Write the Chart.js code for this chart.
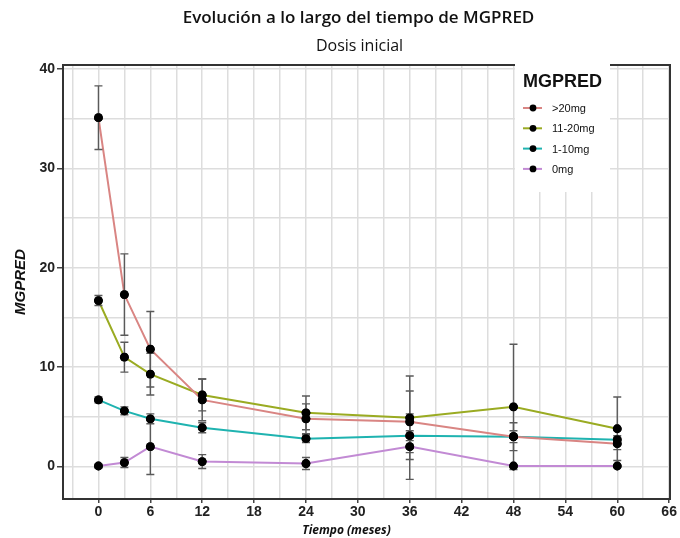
<!DOCTYPE html>
<html>
<head>
<meta charset="utf-8">
<script src="https://cdn.jsdelivr.net/npm/chart.js@4.4.1/dist/chart.umd.min.js"></script>
<style>
  html, body { margin: 0; padding: 0; background: #ffffff; }
  #wrap { width: 680px; height: 538px; }
</style>
</head>
<body>
<div id="wrap"><canvas id="c" width="680" height="538"></canvas></div>
<script>
// ---- data ----
const months = [0, 3, 6, 12, 24, 36, 48, 60];
const seriesNames = ['>20mg', '11-20mg', '1-10mg', '0mg'];
const mgOver20 = [35.1, 17.3, 11.8, 6.7, 4.8, 4.5, 3.0, 2.3];
const mgOver20Err = [3.2, 4.1, 3.8, 2.1, 1.5, 3.1, 1.4, 0.6];
const mg11to20 = [16.7, 11.0, 9.3, 7.2, 5.4, 4.9, 6.0, 3.8];
const mg11to20Err = [0.5, 1.5, 2.1, 1.6, 1.7, 4.2, 6.3, 3.2];
const mg1to10 = [6.7, 5.6, 4.8, 3.9, 2.8, 3.1, 3.0, 2.7];
const mg1to10Err = [0.3, 0.4, 0.5, 0.5, 0.4, 0.5, 0.6, 0.4];
const mg0 = [0.05, 0.4, 2.0, 0.5, 0.3, 2.0, 0.05, 0.05];
const mg0Err = [0.2, 0.5, 2.8, 0.7, 0.6, 3.3, 0.0, 0.0];
const xTickValues = [-3, 0, 3, 6, 9, 12, 15, 18, 21, 24, 27, 30, 33, 36, 39, 42, 45, 48, 51, 54, 57, 60, 63, 66];
const yTickValues = [0, 5, 10, 15, 20, 25, 30, 35, 40];
const titleText = 'Evolución a lo largo del tiempo de MGPRED';
const subtitleText = 'Dosis inicial';
const xTitleText = 'Tiempo (meses)';
const yTitleText = 'MGPRED';
const legendTitleText = 'MGPRED';

const lineColors = ['#d98583', '#9aab22', '#1fb3b0', '#c28ad4'];
const allValues = [mgOver20, mg11to20, mg1to10, mg0];
const allErrors = [mgOver20Err, mg11to20Err, mg1to10Err, mg0Err];

const datasets = seriesNames.map((name, i) => ({
  label: name,
  data: months.map((m, j) => ({ x: m, y: allValues[i][j] })),
  borderColor: lineColors[i],
  backgroundColor: '#000000',
  pointBackgroundColor: '#000000',
  pointBorderColor: '#000000',
  pointBorderWidth: 0,
  pointRadius: 4.4,
  pointHoverRadius: 4.4,
  borderWidth: 2,
  tension: 0,
  fill: false
}));

const isLabeledX = v => v >= 0 && v % 6 === 0;
const isLabeledY = v => v % 10 === 0;

const errorBarPlugin = {
  id: 'errorBars',
  afterDatasetsDraw(chart) {
    const ctx = chart.ctx;
    const xs = chart.scales.x, ys = chart.scales.y;
    ctx.save();
    ctx.strokeStyle = '#5a5a5a';
    ctx.lineWidth = 1.4;
    allErrors.forEach((errs, i) => {
      errs.forEach((e, j) => {
        if (!e) return;
        const x = xs.getPixelForValue(months[j]);
        const y1 = ys.getPixelForValue(allValues[i][j] + e);
        const y2 = ys.getPixelForValue(allValues[i][j] - e);
        ctx.beginPath();
        ctx.moveTo(x, y1); ctx.lineTo(x, y2);
        ctx.moveTo(x - 4, y1); ctx.lineTo(x + 4, y1);
        ctx.moveTo(x - 4, y2); ctx.lineTo(x + 4, y2);
        ctx.stroke();
      });
    });
    ctx.restore();
    // redraw points above error bars
    chart.data.datasets.forEach((d, i) => {
      chart.getDatasetMeta(i).data.forEach(pt => pt.draw(ctx));
    });
    // frame
    const a = chart.chartArea;
    ctx.save();
    ctx.strokeStyle = '#333333';
    ctx.lineWidth = 2;
    ctx.strokeRect(a.left, a.top, a.right - a.left, a.bottom - a.top);
    ctx.restore();
  }
};

const textPlugin = {
  id: 'texts',
  afterDraw(chart) {
    const ctx = chart.ctx;
    const a = chart.chartArea;
    const cx = (a.left + a.right) / 2;
    ctx.save();
    ctx.fillStyle = '#111111';
    ctx.textAlign = 'center';
    ctx.textBaseline = 'middle';
    ctx.font = '600 17px "Open Sans"';
    ctx.fillText(titleText, cx - 8, 18);
    ctx.font = '400 16px "Open Sans"';
    ctx.fillText(subtitleText, cx - 7, 46);
    ctx.font = 'italic 700 12px "Open Sans"';
    ctx.fillText(xTitleText, cx - 20, 531);

    // legend
    const lx = a.right - 155, ly = a.top - 8;
    ctx.fillStyle = '#ffffff';
    ctx.fillRect(lx, ly, 95, 135);
    ctx.fillStyle = '#111111';
    ctx.textAlign = 'left';
    ctx.font = 'bold 18px "Liberation Sans", Arial';
    ctx.fillText(legendTitleText, lx + 8, ly + 25);
    ctx.font = '11px "Liberation Sans", Arial';
    seriesNames.forEach((name, i) => {
      const y = ly + 51 + i * 20.3;
      ctx.strokeStyle = lineColors[i];
      ctx.lineWidth = 2;
      ctx.beginPath();
      ctx.moveTo(lx + 8, y); ctx.lineTo(lx + 27, y);
      ctx.stroke();
      ctx.fillStyle = '#000000';
      ctx.beginPath();
      ctx.arc(lx + 18, y, 3.4, 0, Math.PI * 2);
      ctx.fill();
      ctx.fillStyle = '#111111';
      ctx.fillText(name, lx + 37, y + 1);
    });
    ctx.restore();
  }
};

new Chart(document.getElementById('c'), {
  type: 'line',
  data: { datasets },
  options: {
    responsive: false,
    animation: false,
    layout: { padding: { top: 65, right: 10, left: 0, bottom: 0 } },
    plugins: {
      legend: { display: false },
      title: { display: false },
      tooltip: { enabled: false }
    },
    scales: {
      x: {
        type: 'linear',
        min: -4.1,
        max: 66.1,
        afterBuildTicks: s => { s.ticks = xTickValues.map(v => ({ value: v })); },
        afterFit: s => { s.height = 39; },
        ticks: {
          autoSkip: false,
          maxRotation: 0,
          padding: 1,
          color: '#222222',
          font: { family: '"Liberation Sans", Arial', size: 14, weight: 'bold' },
          callback: v => isLabeledX(v) ? String(v) : ''
        },
        grid: {
          color: '#dddddd',
          lineWidth: 1.5,
          tickLength: 4,
          tickColor: c => isLabeledX(c.tick.value) ? '#444444' : 'rgba(0,0,0,0)'
        },
        border: { display: true, color: '#333333', width: 2 }
      },
      y: {
        type: 'linear',
        min: -3.27,
        max: 40.4,
        afterBuildTicks: s => { s.ticks = yTickValues.map(v => ({ value: v })); },
        afterFit: s => { s.width = 63; },
        ticks: {
          autoSkip: false,
          padding: 2,
          color: '#222222',
          font: { family: '"Liberation Sans", Arial', size: 14, weight: 'bold' },
          callback: v => isLabeledY(v) ? String(v) : ''
        },
        grid: {
          color: '#dddddd',
          lineWidth: 1.5,
          tickLength: 6,
          tickColor: c => isLabeledY(c.tick.value) ? '#444444' : 'rgba(0,0,0,0)'
        },
        border: { display: true, color: '#333333', width: 2 },
        title: {
          display: true,
          text: yTitleText,
          color: '#111111',
          padding: { top: 12, bottom: 0 },
          font: { family: '"Liberation Sans", Arial', size: 15, weight: 'bold', style: 'italic' }
        }
      }
    }
  },
  plugins: [errorBarPlugin, textPlugin]
});
</script>
</body>
</html>
